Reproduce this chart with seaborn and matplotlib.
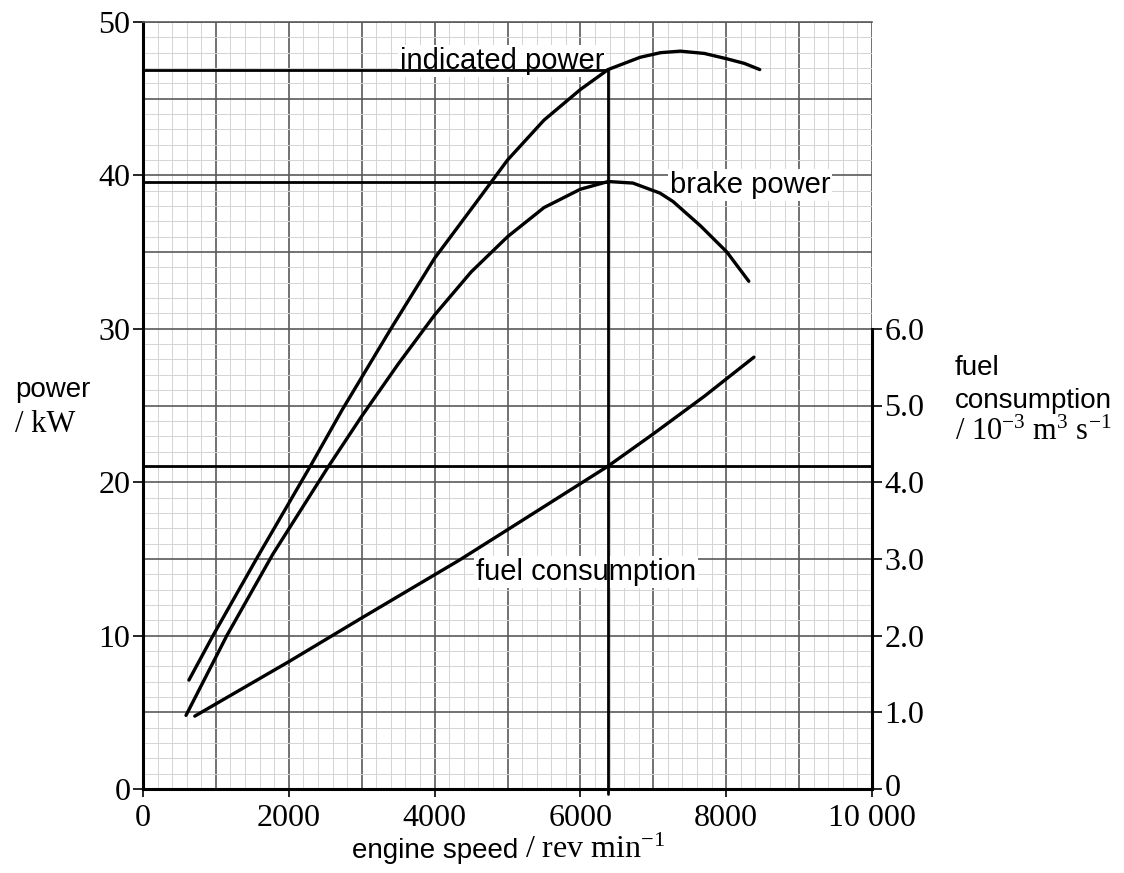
import numpy as np
import matplotlib
matplotlib.use('Agg')
import matplotlib.pyplot as plt
import seaborn as sns

# --------------------------------------------------------------------------
# data
# --------------------------------------------------------------------------
speed_indicated = [630, 960, 1580, 2290, 2730, 3400, 4000, 4580, 5000, 5500, 6000, 6380,
                   6820, 7100, 7370, 7700, 8010, 8250, 8460]
power_indicated = [7.1, 10.0, 15.2, 21.0, 24.7, 30.0, 34.6, 38.3, 41.0, 43.6, 45.6, 46.9,
                   47.7, 48.0, 48.1, 47.95, 47.6, 47.3, 46.9]

speed_brake = [590, 1150, 1780, 2540, 3000, 3500, 4000, 4500, 5000, 5500, 6000, 6380,
               6720, 7090, 7270, 7650, 8010, 8310]
power_brake = [4.8, 10.0, 15.3, 21.0, 24.3, 27.7, 30.9, 33.7, 36.0, 37.9, 39.1, 39.6,
               39.5, 38.85, 38.3, 36.7, 35.0, 33.1]

speed_fuel = [710, 2000, 3000, 4350, 5000, 6380, 7000, 7700, 8380]
fuel_rate = [0.95, 1.66, 2.23, 2.99, 3.38, 4.21, 4.63, 5.12, 5.63]

# construction lines
read_speed = 6380
read_indicated = 46.9
read_brake = 39.6
read_fuel = 4.21

x_ticks = [0, 2000, 4000, 6000, 8000, 10000]
x_ticklabels = ['0', '2000', '4000', '6000', '8000', '10 000']
y_ticks = [0, 10, 20, 30, 40, 50]
fuel_ticks = [0, 1, 2, 3, 4, 5, 6]
fuel_ticklabels = ['0', '1.0', '2.0', '3.0', '4.0', '5.0', '6.0']

# --------------------------------------------------------------------------
# plot
# --------------------------------------------------------------------------
sns.set_style('white')
plt.rcParams['text.color'] = 'black'
plt.rcParams['xtick.color'] = 'black'
plt.rcParams['ytick.color'] = 'black'
plt.rcParams['mathtext.fontset'] = 'custom'
plt.rcParams['mathtext.rm'] = 'Liberation Serif'
plt.rcParams['mathtext.it'] = 'Liberation Serif:italic'

serif = 'Liberation Serif'
sans = 'Liberation Sans'
line_kw = dict(color='black', lw=2.4, solid_joinstyle='round', solid_capstyle='round')

fig = plt.figure(figsize=(11.24, 8.73), dpi=100)
ax = fig.add_axes([143 / 1124, 84 / 873, 729 / 1124, 767 / 873])
ax.set_xlim(0, 10000)
ax.set_ylim(0, 50)

# graph paper
for gx in np.arange(200, 10001, 200):
    major = gx % 1000 == 0
    ax.axvline(gx, color='#5a5a5a' if major else '#d4d4d4',
               lw=1.2 if major else 0.7, zorder=0)
for gy in np.arange(1, 51, 1):
    major = gy % 5 == 0
    ax.axhline(gy, color='#5a5a5a' if major else '#d4d4d4',
               lw=1.2 if major else 0.7, zorder=0)

# curves
sns.lineplot(x=speed_indicated, y=power_indicated, ax=ax, zorder=5, **line_kw)
sns.lineplot(x=speed_brake, y=power_brake, ax=ax, zorder=5, **line_kw)

# reading lines
ax.plot([0, read_speed], [read_indicated, read_indicated], color='black', lw=2.0, zorder=4)
ax.plot([0, read_speed], [read_brake, read_brake], color='black', lw=2.0, zorder=4)
ax.plot([read_speed, read_speed], [-0.3, read_indicated], color='black', lw=2.0, zorder=4, clip_on=False)
ax.plot([0, 10000], [read_fuel * 5, read_fuel * 5], color='black', lw=2.0, zorder=4)

# labels on the curves
box = dict(facecolor='white', edgecolor='none', pad=1.5)
ax.text(4925, 46.95, 'indicated power', fontsize=21, family=sans, ha='center',
        va='baseline', bbox=box, zorder=3)
ax.text(8326, 38.85, 'brake power', fontsize=21, family=sans, ha='center',
        va='baseline', bbox=box, zorder=3)
ax.text(6077, 13.6, 'fuel consumption', fontsize=21, family=sans, ha='center',
        va='baseline', bbox=box, zorder=3)

# axes styling
ax.set_xticks(x_ticks)
ax.set_xticklabels(x_ticklabels, family=serif, fontsize=23, color='black')
ax.set_yticks(y_ticks)
ax.set_yticklabels([str(v) for v in y_ticks], family=serif, fontsize=23, color='black')
ax.tick_params(axis='x', direction='out', length=6, width=1.2, pad=5, color='black', bottom=True)
ax.tick_params(axis='y', direction='out', length=7, width=1.2, pad=2, color='black', left=True)
ax.set_xlabel('')
ax.set_ylabel('')
ax.spines['left'].set_linewidth(2.2)
ax.spines['left'].set_color('black')
ax.spines['bottom'].set_linewidth(2.2)
ax.spines['bottom'].set_color('black')
ax.spines['top'].set_linewidth(1.2)
ax.spines['top'].set_color('#5a5a5a')
ax.spines['right'].set_visible(False)
for s in ax.spines.values():
    s.set_zorder(6)

# fuel consumption on the right-hand scale
ax2 = ax.twinx()
ax2.set_ylim(0, 10)
sns.lineplot(x=speed_fuel, y=fuel_rate, ax=ax2, zorder=5, **line_kw)
ax2.set_yticks(fuel_ticks)
ax2.set_yticklabels(fuel_ticklabels, family=serif, fontsize=23, color='black')
ax2.tick_params(direction='out', length=7, width=1.2, pad=2, right=True, color='black')
ax2.set_ylabel('')
ax2.spines['right'].set_bounds(0, 6)
ax2.spines['right'].set_linewidth(2.2)
ax2.spines['right'].set_color('black')
for side in ['left', 'top', 'bottom']:
    ax2.spines[side].set_visible(False)
ax2.get_yticklabels()[0].set_va('center')

# axis titles
fig.text(15 / 1124, 1 - 397 / 873, 'power', family=sans, fontsize=20, va='baseline')
fig.text(15 / 1124, 1 - 432 / 873, '/ kW', family=serif, fontsize=22, va='baseline')

fig.text(955 / 1124, 1 - 375 / 873, 'fuel', family=sans, fontsize=20, va='baseline')
fig.text(955 / 1124, 1 - 408 / 873, 'consumption', family=sans, fontsize=20, va='baseline')
fig.text(955 / 1124, 1 - 440 / 873, '/ 10$^{-3}$ m$^{3}$ s$^{-1}$', family=serif,
         fontsize=22, va='baseline')

fig.text(518 / 1124, 1 - 858 / 873, 'engine speed', family=sans, fontsize=20,
         ha='right', va='baseline')
fig.text(525 / 1124, 1 - 858 / 873, '/ rev min$^{-1}$', family=serif, fontsize=23,
         ha='left', va='baseline')

fig.savefig('out.png', dpi=100)
